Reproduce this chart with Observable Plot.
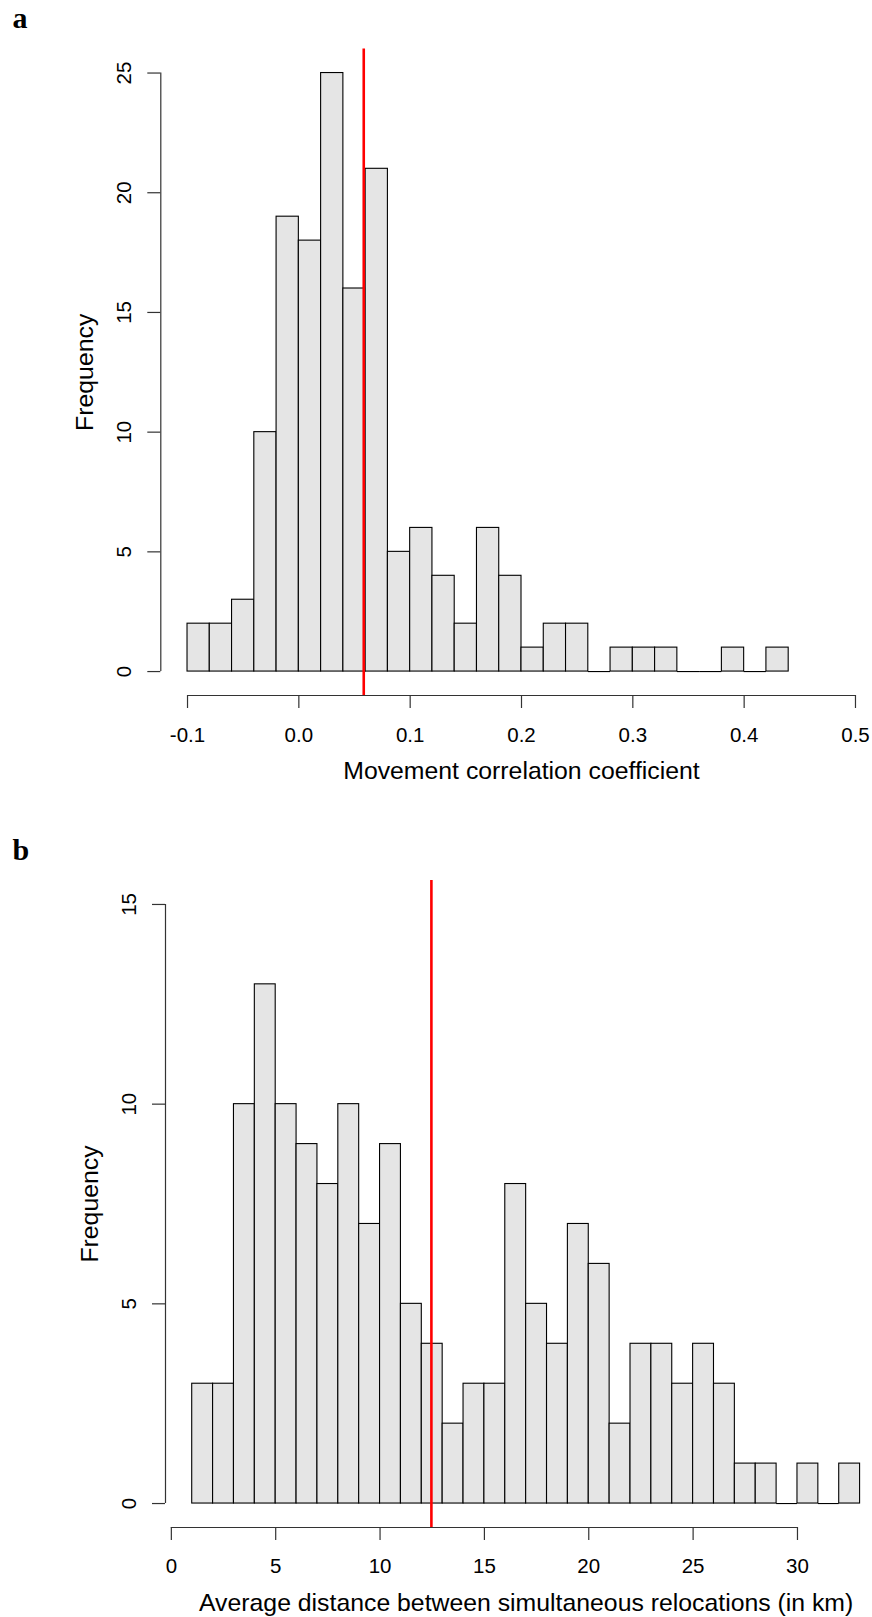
<!DOCTYPE html>
<html><head><meta charset="utf-8">
<script src="https://cdn.jsdelivr.net/npm/d3@7"></script>
<script src="https://cdn.jsdelivr.net/npm/@observablehq/plot@0.6"></script>
<style>
body{margin:0;background:#fff;}
#wrap{position:relative;width:872px;height:1617px;overflow:hidden;}
#pa{position:absolute;left:0;top:0;}
#pb{position:absolute;left:0;top:800px;}
svg{overflow:visible;}
</style></head><body>
<div id="wrap"><div id="pa"></div><div id="pb"></div></div>
<script>
// ---- Panel a: movement correlation coefficient ----
const corrBinStarts = [-0.10,-0.08,-0.06,-0.04,-0.02,0.00,0.02,0.04,0.06,0.08,0.10,0.12,0.14,0.16,0.18,0.20,0.22,0.24,0.26,0.28,0.30,0.32,0.34,0.36,0.38,0.40,0.42];
const corrBinWidth = 0.02;
const corrCounts = [2,2,3,10,19,18,25,16,21,5,6,4,2,6,4,1,2,2,0,1,1,1,0,0,1,0,1];
const corrMean = 0.0583;
const corrXTicks = [-0.1,0.0,0.1,0.2,0.3,0.4,0.5];
const corrYTicks = [0,5,10,15,20,25];

// ---- Panel b: average distance between simultaneous relocations ----
const distBinStarts = [1,2,3,4,5,6,7,8,9,10,11,12,13,14,15,16,17,18,19,20,21,22,23,24,25,26,27,28,29,30,31,32];
const distBinWidth = 1;
const distCounts = [3,3,10,13,10,9,8,10,7,9,5,4,2,3,3,8,5,4,7,6,2,4,4,3,4,3,1,1,0,1,0,1];
const distMean = 12.46;
const distXTicks = [0,5,10,15,20,25,30];
const distYTicks = [0,5,10,15];

const SANS = "'Liberation Sans', Arial, Helvetica, sans-serif";
const SERIF = "'Liberation Serif', 'Times New Roman', serif";

function histPanel(o) {
  const bins = o.starts.map((s, i) => ({x1: s, x2: s + o.width, count: o.counts[i]}));
  const filled = bins.filter(d => d.count > 0);
  const empty = bins.filter(d => d.count === 0);
  const xMid = (o.xDomain[0] + o.xDomain[1]) / 2;
  const yMid = (o.yDomain[0] + o.yDomain[1]) / 2;
  return Plot.plot({
    width: 872,
    height: o.height,
    marginLeft: o.marginLeft,
    marginTop: o.marginTop,
    marginBottom: o.marginBottom,
    marginRight: 0,
    style: {fontFamily: SANS, background: "white", overflow: "visible", color: "black"},
    x: {type: "linear", domain: o.xDomain, range: o.xRange},
    y: {type: "linear", domain: o.yDomain, range: o.yRange},
    marks: [
      Plot.rect(filled, {x1: "x1", x2: "x2", y1: 0, y2: "count", fill: "#e5e5e5", stroke: "black", strokeWidth: 1.1}),
      Plot.ruleY(empty, {y: 0, x1: "x1", x2: "x2", stroke: "black", strokeWidth: 1.1}),
      // R-style axes
      Plot.ruleY([o.yDomain[0]], {x1: o.xTicks[0], x2: o.xTicks[o.xTicks.length - 1], stroke: "#333", strokeWidth: 1.2}),
      Plot.ruleX([o.xDomain[0]], {y1: o.yTicks[0], y2: o.yTicks[o.yTicks.length - 1], stroke: "#333", strokeWidth: 1.2}),
      Plot.axisX({anchor: "bottom", ticks: o.xTicks, tickSize: 13, tickPadding: o.xPad, tickFormat: o.xFmt, fontSize: 20.5, label: null, stroke: "#333", strokeWidth: 1.2}),
      Plot.axisY({anchor: "left", ticks: o.yTicks, tickSize: 13, tickPadding: o.yPad, tickRotate: -90, textAnchor: "middle", lineAnchor: "bottom", tickFormat: d => String(d), fontSize: 20.5, label: null, stroke: "#333", strokeWidth: 1.2}),
      // axis titles
      Plot.text([o.xLabel], {x: () => xMid, frameAnchor: "bottom", dy: o.xLabelDy, lineAnchor: "bottom", textAnchor: "middle", fontSize: 24.8, text: d => d}),
      Plot.text(["Frequency"], {y: () => yMid, frameAnchor: "left", dx: o.freqDx, rotate: -90, lineAnchor: "bottom", textAnchor: "middle", fontSize: 24.8, text: d => d}),
      // mean line
      Plot.ruleX([o.mean], {y1: o.yDomain[0], y2: o.yDomain[1], stroke: "#ff0000", strokeWidth: 2.6}),
      // panel tag
      Plot.text([o.tag], {frameAnchor: "top-left", dx: o.tagDx, dy: o.tagDy, lineAnchor: "bottom", textAnchor: "start", fontFamily: SERIF, fontWeight: "bold", fontSize: 30, text: d => d})
    ]
  });
}

document.getElementById("pa").append(histPanel({
  tag: "a", starts: corrBinStarts, width: corrBinWidth, counts: corrCounts, mean: corrMean,
  xTicks: corrXTicks, yTicks: corrYTicks, xFmt: d => d.toFixed(1),
  xLabel: "Movement correlation coefficient",
  xDomain: [-0.124, 0.524], xRange: [160.3, 881.7],
  yDomain: [-1, 26], yRange: [695, 48.6],
  height: 800, marginLeft: 160.3, marginTop: 48.6, marginBottom: 105,
  xPad: 19, yPad: 16.5, xLabelDy: 83, freqDx: -68.3, tagDx: -148.3, tagDy: -21.4
}));

document.getElementById("pb").append(histPanel({
  tag: "b", starts: distBinStarts, width: distBinWidth, counts: distCounts, mean: distMean,
  xTicks: distXTicks, yTicks: distYTicks, xFmt: d => String(d),
  xLabel: "Average distance between simultaneous relocations (in km)",
  xDomain: [-0.28, 34.28], xRange: [165, 886.3],
  yDomain: [-0.6, 15.6], yRange: [727, 80],
  height: 817, marginLeft: 165, marginTop: 80, marginBottom: 90,
  xPad: 18.3, yPad: 17, xLabelDy: 83, freqDx: -68, tagDx: -153, tagDy: -20.5
}));
</script>
</body></html>
